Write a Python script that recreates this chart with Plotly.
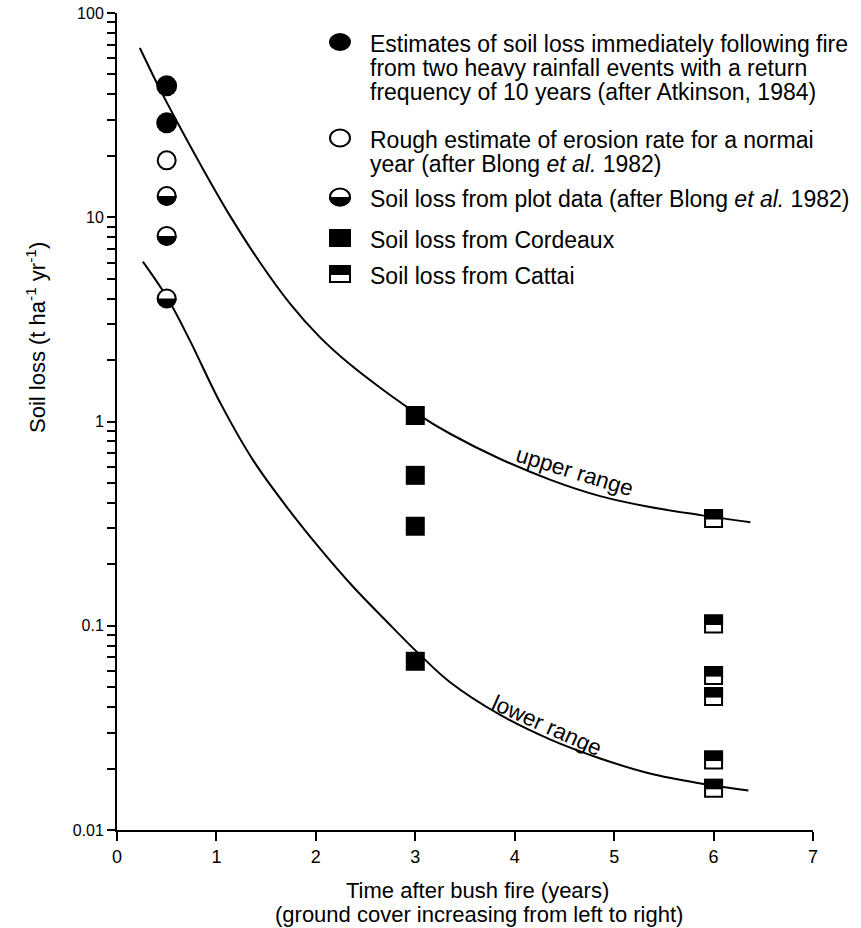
import plotly.graph_objects as go

# ---- data -------------------------------------------------------------
# Estimates immediately following fire (Atkinson, 1984)
atk_x = [0.5, 0.5]
atk_y = [44.0, 29.0]
# Rough estimate of erosion rate for a normal year (Blong et al. 1982)
rough_x = [0.5]
rough_y = [19.0]
# Plot data (Blong et al. 1982)
plotdata_x = [0.5, 0.5, 0.5]
plotdata_y = [12.7, 8.1, 4.0]
# Cordeaux
cord_x = [3, 3, 3, 3]
cord_y = [1.07, 0.545, 0.307, 0.067]
# Cattai
cattai_x = [6, 6, 6, 6, 6, 6]
cattai_y = [0.335, 0.102, 0.057, 0.045, 0.022, 0.016]

# Envelope curves
upper_x = [0.23, 0.43, 0.63, 0.84, 1.14, 1.44, 1.74, 2.04, 2.34, 2.65, 3.05, 3.35,
           3.85, 4.36, 4.86, 5.36, 5.87, 6.37]
upper_y = [67.4, 42.5, 27.8, 18.1, 10.1, 5.99, 3.78, 2.59, 1.91, 1.46, 1.066, 0.871,
           0.657, 0.518, 0.431, 0.381, 0.348, 0.321]
lower_x = [0.26, 0.51, 0.73, 1.04, 1.37, 1.71, 2.04, 2.37, 2.72, 3.04, 3.35, 3.85,
           4.36, 4.86, 5.36, 5.87, 6.35]
lower_y = [6.06, 4.0, 2.51, 1.23, 0.645, 0.380, 0.239, 0.156, 0.104, 0.0726, 0.0529,
           0.0367, 0.0277, 0.0224, 0.0189, 0.0169, 0.0156]

x_ticks = [0, 1, 2, 3, 4, 5, 6, 7]
y_ticks = [0.01, 0.1, 1, 10, 100]
y_ticktext = ["0.01", "0.1", "1", "10", "100"]

legend_items = [
    ("filled_circle", ["Estimates of soil loss immediately following fire",
                       "from two heavy rainfall events with a return",
                       "frequency of 10 years (after Atkinson, 1984)"]),
    ("open_circle", ["Rough estimate of erosion rate for a normai",
                     "year (after Blong <i>et al.</i> 1982)"]),
    ("half_circle", ["Soil loss from plot data (after Blong <i>et al.</i> 1982)"]),
    ("filled_square", ["Soil loss from Cordeaux"]),
    ("half_square", ["Soil loss from Cattai"]),
]

FONT = "Liberation Sans, Arial, sans-serif"
BLACK = "#000000"
TEXT_SIZE = 23

fig = go.Figure()

# envelope curves
for xs, ys in ((upper_x, upper_y), (lower_x, lower_y)):
    fig.add_trace(go.Scatter(x=xs, y=ys, mode="lines",
                             line=dict(color=BLACK, width=2, shape="spline", smoothing=1.0),
                             hoverinfo="skip", showlegend=False))

# point markers
fig.add_trace(go.Scatter(x=atk_x, y=atk_y, mode="markers",
                         marker=dict(symbol="circle", size=21, color=BLACK, line=dict(width=0)),
                         showlegend=False))
fig.add_trace(go.Scatter(x=rough_x, y=rough_y, mode="markers",
                         marker=dict(symbol="circle", size=18, color="white",
                                     line=dict(width=2, color=BLACK)),
                         showlegend=False))
fig.add_trace(go.Scatter(x=plotdata_x, y=plotdata_y, mode="markers",
                         marker=dict(symbol="circle", size=18, color="white",
                                     line=dict(width=2, color=BLACK)),
                         showlegend=False))
fig.add_trace(go.Scatter(x=cord_x, y=cord_y, mode="markers",
                         marker=dict(symbol="square", size=19, color=BLACK, line=dict(width=0)),
                         showlegend=False))
fig.add_trace(go.Scatter(x=cattai_x, y=cattai_y, mode="markers",
                         marker=dict(symbol="square", size=17, color="white",
                                     line=dict(width=2, color=BLACK)),
                         showlegend=False))

# half fills drawn in pixel units around each point
HALF_CIRCLE = "M-10,0 C-10,-5 -5.5,-9.5 0,-9.5 C5.5,-9.5 10,-5 10,0 Z"
HALF_SQUARE = "M-9.5,-1 H9.5 V9.5 H-9.5 Z"


def half_shape(path, xref, yref, xa, ya):
    return dict(type="path", path=path, xref=xref, yref=yref,
                xsizemode="pixel", ysizemode="pixel", xanchor=xa, yanchor=ya,
                fillcolor=BLACK, line=dict(width=0), layer="above")


shapes = []
for xv, yv in zip(plotdata_x, plotdata_y):
    shapes.append(half_shape(HALF_CIRCLE, "x", "y", xv, yv))
for xv, yv in zip(cattai_x, cattai_y):
    shapes.append(half_shape(HALF_SQUARE, "x", "y", xv, yv))

# ---- page geometry -------------------------------------------------------
L, R, T, B = 117, 48, 13, 98
W, H = 861, 928
pw, ph = W - L - R, H - T - B


def px(xp):
    return (xp - L) / pw


def py(yp):
    return (H - B - yp) / ph


# ---- legend block ------------------------------------------------------
sym_x = px(340)
text_x = px(368)
row_y = [[44, 68, 92], [140, 164], [199], [240], [276]]
annotations = []
for (kind, lines), ys in zip(legend_items, row_y):
    sy = ys[0] - 2
    common = dict(type="circle", xref="paper", yref="paper", xsizemode="pixel",
                  ysizemode="pixel", xanchor=sym_x, yanchor=py(sy))
    if kind == "filled_circle":
        shapes.append(dict(common, x0=-11, x1=11, y0=-9, y1=9, fillcolor=BLACK,
                           line=dict(width=0)))
    elif kind in ("open_circle", "half_circle"):
        shapes.append(dict(common, x0=-10, x1=10, y0=-8.5, y1=8.5, fillcolor="white",
                           line=dict(width=2, color=BLACK)))
        if kind == "half_circle":
            shapes.append(half_shape("M-11,0 C-11,-5 -6,-9.5 0,-9.5 C6,-9.5 11,-5 11,0 Z",
                                     "paper", "paper", sym_x, py(sy)))
    elif kind == "filled_square":
        shapes.append(dict(common, type="rect", x0=-11, x1=11, y0=-9, y1=9,
                           fillcolor=BLACK, line=dict(width=0)))
    else:
        shapes.append(dict(common, type="rect", x0=-10, x1=10, y0=-8, y1=8,
                           fillcolor="white", line=dict(width=2, color=BLACK)))
        shapes.append(half_shape("M-10,-1 H10 V8 H-10 Z", "paper", "paper", sym_x, py(sy)))
    for line_text, ly in zip(lines, ys):
        annotations.append(dict(text=line_text, xref="paper", yref="paper",
                                x=text_x, y=py(ly), xanchor="left", yanchor="middle",
                                showarrow=False,
                                font=dict(family=FONT, size=TEXT_SIZE, color=BLACK)))

# curve labels
annotations.append(dict(text="upper range", x=4.6, y=-0.245, xref="x", yref="y",
                        textangle=17, showarrow=False,
                        font=dict(family=FONT, size=22.5, color=BLACK)))
annotations.append(dict(text="lower range", x=4.32, y=-1.49, xref="x", yref="y",
                        textangle=24, showarrow=False,
                        font=dict(family=FONT, size=22.5, color=BLACK)))

# axis titles
annotations.append(dict(text="Soil loss (t ha<sup>-1</sup> yr<sup>-1</sup>)",
                        xref="paper", yref="paper", x=px(36), y=py(338),
                        textangle=-90, showarrow=False, xanchor="center", yanchor="middle",
                        font=dict(family=FONT, size=22, color=BLACK)))
annotations.append(dict(text="Time after bush fire (years)",
                        xref="paper", yref="paper", x=px(477), y=py(890),
                        showarrow=False, xanchor="center", yanchor="middle",
                        font=dict(family=FONT, size=22, color=BLACK)))
annotations.append(dict(text="(ground cover increasing from left to right)",
                        xref="paper", yref="paper", x=px(479), y=py(914),
                        showarrow=False, xanchor="center", yanchor="middle",
                        font=dict(family=FONT, size=22, color=BLACK)))

fig.update_layout(
    width=W, height=H,
    margin=dict(l=L, r=R, t=T, b=B, pad=0),
    paper_bgcolor="white", plot_bgcolor="white",
    font=dict(family=FONT, color=BLACK),
    showlegend=False,
    shapes=shapes,
    annotations=annotations,
    xaxis=dict(range=[0, 7], tickvals=x_ticks, ticks="outside", ticklen=9, tickwidth=2,
               tickcolor=BLACK, showline=True, linewidth=2, linecolor=BLACK,
               showgrid=False, zeroline=False, automargin=False,
               tickfont=dict(size=18, family=FONT)),
    yaxis=dict(type="log", range=[-2, 2], tickvals=y_ticks, ticktext=y_ticktext,
               ticks="outside", ticklen=8, tickwidth=2, tickcolor=BLACK,
               showline=True, linewidth=2, linecolor=BLACK, showgrid=False, zeroline=False,
               automargin=False, tickfont=dict(size=16, family=FONT),
               minor=dict(ticks="outside", ticklen=8, tickwidth=2, tickcolor=BLACK,
                          dtick="D1", showgrid=False)),
)

fig.write_html("out.html")
